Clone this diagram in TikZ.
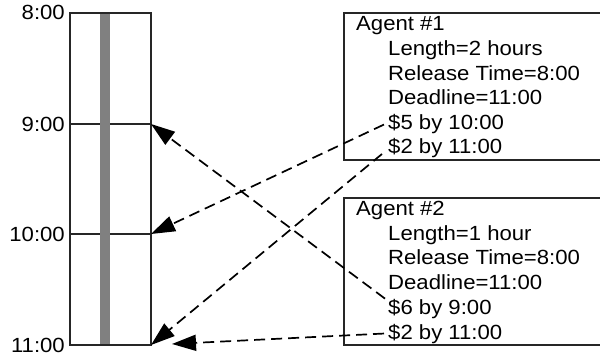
\documentclass[tikz,border=0pt]{standalone}
\usepackage{fontspec}
\setmainfont{Liberation Sans}[FakeStretch=1.08]
\usetikzlibrary{arrows.meta}
\begin{document}
\begin{tikzpicture}[x=1pt,y=-1pt,
  txt/.style={anchor=base west,inner sep=0pt,font=\fontsize{20.5}{24}\selectfont},
  tlabel/.style={anchor=east,inner sep=0pt,font=\fontsize{20.5}{24}\selectfont},
  box/.style={draw=black!85,line width=1.9pt},
  conn/.style={draw=black,line width=1.7pt,dash pattern=on 11pt off 6pt,
    -{Triangle[length=24pt,width=16pt]}}]
\useasboundingbox (0,0) rectangle (600,358);
% timeline coordinates
\coordinate (t8w) at (70,13);   \coordinate (t8e) at (151,13);
\coordinate (t9w) at (70,124);  \coordinate (t9e) at (151,124);
\coordinate (t10w) at (70,234); \coordinate (t10e) at (151,234);
\coordinate (t11w) at (70,345); \coordinate (t11e) at (151,345);
\coordinate (t11a) at (172,344);
% time labels
\node[tlabel] (l8) at (65,12.5) {8:00};
\node[tlabel] (l9) at (65,124) {9:00};
\node[tlabel] (l10) at (65,234) {10:00};
\node[tlabel] (l11) at (65,345) {11:00};
% timeline
\draw[box] (t9w) -- (t9e);
\draw[box] (t10w) -- (t10e);
\fill[black!50] (100,13) rectangle (110,345);
\draw[box] (t8w) rectangle (t11e);
% agent boxes
\draw[box] (601,13) -- (344,13) -- (344,160) -- (601,160);
\draw[box] (601,198) -- (344,198) -- (344,345) -- (601,345);
% agent 1 text
\node[txt] (a1) at (356,30.7) {Agent \#1};
\node[txt] (a1l1) at (388,55.8) {Length=2 hours};
\node[txt] (a1l2) at (388,80.5) {Release Time=8:00};
\node[txt] (a1l3) at (388,105) {Deadline=11:00};
\node[txt] (a1l4) at (388,130) {\$5 by 10:00};
\node[txt] (a1l5) at (388,154) {\$2 by 11:00};
% agent 2 text
\node[txt] (a2) at (356,216) {Agent \#2};
\node[txt] (a2l1) at (388,240.7) {Length=1 hour};
\node[txt] (a2l2) at (388,265) {Release Time=8:00};
\node[txt] (a2l3) at (388,290) {Deadline=11:00};
\node[txt] (a2l4) at (388,314) {\$6 by 9:00};
\node[txt] (a2l5) at (388,339) {\$2 by 11:00};
% connectors
\draw[conn] ([xshift=-3pt]a2l4.north west) -- (t9e);
\draw[conn] ([xshift=-4pt]a1l4.west) -- (t10e);
\draw[conn] ([xshift=-6pt]a1l5.base west) -- (t11e);
\draw[conn] ([xshift=-4pt]a2l5.west) -- (t11a);
\end{tikzpicture}
\end{document}
